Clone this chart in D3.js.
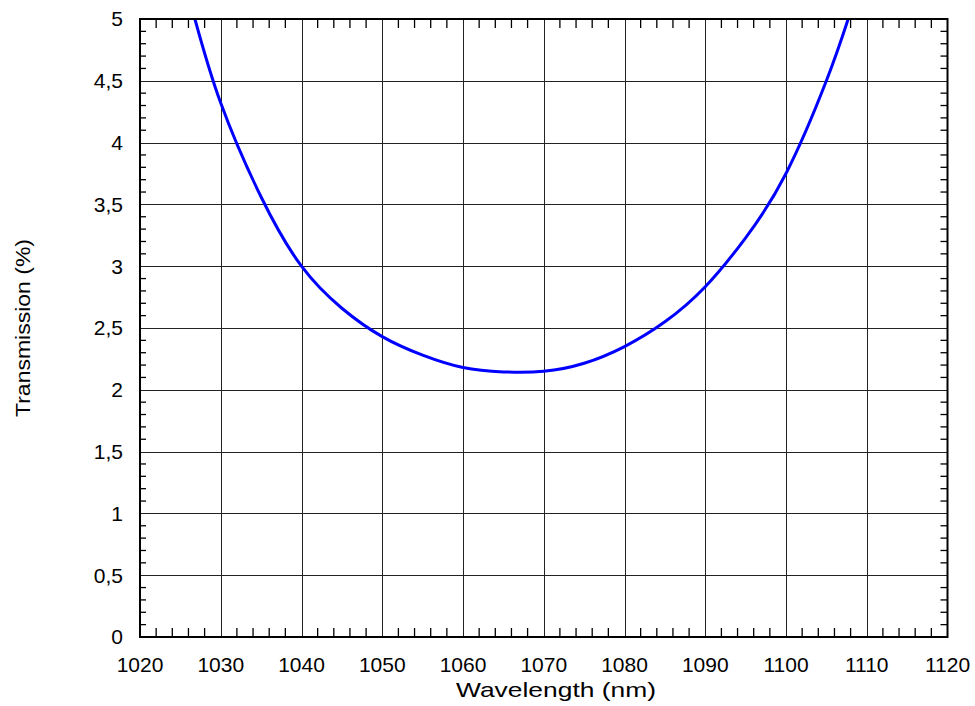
<!DOCTYPE html>
<html>
<head>
<meta charset="utf-8">
<script src="https://cdn.jsdelivr.net/npm/d3@7"></script>
<style>
  html, body { margin: 0; padding: 0; background: #fff; }
  svg { display: block; }
  text { font-family: "Liberation Sans", Arial, sans-serif; fill: #000; }
</style>
</head>
<body>
<svg id="chart" width="975" height="706"></svg>
<script>
// Data
const wavelength = [1026.8, 1030, 1035, 1040, 1045, 1050, 1055, 1060, 1065, 1070, 1075, 1080, 1085, 1090, 1095, 1100, 1105, 1107.7];
const transmission = [5.0, 4.32, 3.56, 3.0, 2.66, 2.43, 2.28, 2.18, 2.145, 2.15, 2.215, 2.35, 2.55, 2.834, 3.23, 3.75, 4.5, 5.0];
const xTicks = [1020, 1030, 1040, 1050, 1060, 1070, 1080, 1090, 1100, 1110, 1120];
const yTicks = [0, 0.5, 1, 1.5, 2, 2.5, 3, 3.5, 4, 4.5, 5];
const xLabel = "Wavelength (nm)";
const yLabel = "Transmission (%)";

const svg = d3.select("#chart");
const L = 140, R = 947.5, T = 19, B = 637;
const x = d3.scaleLinear().domain([1020, 1120]).range([L, R]);
const y = d3.scaleLinear().domain([0, 5]).range([B, T]);

// grid
const g = svg.append("g");
g.selectAll("line.vg").data(xTicks.slice(1, -1)).join("line")
  .attr("x1", d => Math.round(x(d)) + 0.5).attr("x2", d => Math.round(x(d)) + 0.5)
  .attr("y1", T).attr("y2", B).attr("stroke", "#222").attr("stroke-width", 1);
g.selectAll("line.hg").data(yTicks.slice(1, -1)).join("line")
  .attr("y1", d => Math.round(y(d)) + 0.5).attr("y2", d => Math.round(y(d)) + 0.5)
  .attr("x1", L).attr("x2", R).attr("stroke", "#222").attr("stroke-width", 1);

// minor ticks
const xMinor = d3.range(1020, 1120.001, 2).filter(v => v % 10 !== 0);
const yMinor = d3.range(0, 51).map(i => i / 10).filter((v, i) => i % 5 !== 0);
const tickStyle = sel => sel.attr("stroke", "#000").attr("stroke-width", 1.3);
[[B, -9], [T, 9]].forEach(([yy, len]) => {
  g.append("g").selectAll("line").data(xMinor).join("line")
    .attr("x1", d => x(d)).attr("x2", d => x(d))
    .attr("y1", yy).attr("y2", yy + len).call(tickStyle);
});
[[L, 6], [R, -7]].forEach(([xx, len]) => {
  g.append("g").selectAll("line").data(yMinor).join("line")
    .attr("y1", d => y(d)).attr("y2", d => y(d))
    .attr("x1", xx).attr("x2", xx + len).call(tickStyle);
});

// curve
const pts = wavelength.map((w, i) => [w, transmission[i]]);
svg.append("defs").append("clipPath").attr("id", "clip")
  .append("rect").attr("x", L).attr("y", T).attr("width", R - L).attr("height", B - T);
svg.append("path").datum(pts)
  .attr("clip-path", "url(#clip)")
  .attr("fill", "none").attr("stroke", "#0000ff").attr("stroke-width", 3)
  .attr("d", d3.line().x(d => x(d[0])).y(d => y(d[1])).curve(d3.curveNatural));

// frame
svg.append("rect").attr("x", L).attr("y", T).attr("width", R - L).attr("height", B - T)
  .attr("fill", "none").attr("stroke", "#000").attr("stroke-width", 2);

// tick labels
const fs = 21;
svg.append("g").selectAll("text").data(xTicks).join("text")
  .attr("x", d => x(d)).attr("y", 672).attr("text-anchor", "middle")
  .attr("font-size", fs).text(d => d);
svg.append("g").selectAll("text").data(yTicks).join("text")
  .attr("x", 123).attr("y", d => y(d)).attr("dy", "0.35em").attr("text-anchor", "end")
  .attr("font-size", fs).text(d => String(d).replace(".", ","));

// axis titles
svg.append("text").attr("x", 556).attr("y", 697).attr("text-anchor", "middle")
  .attr("font-size", fs).attr("textLength", 200).attr("lengthAdjust", "spacingAndGlyphs").text(xLabel);
svg.append("text").attr("transform", "translate(30,328) rotate(-90)")
  .attr("text-anchor", "middle").attr("font-size", fs)
  .attr("textLength", 178).attr("lengthAdjust", "spacingAndGlyphs").text(yLabel);
</script>
</body>
</html>
